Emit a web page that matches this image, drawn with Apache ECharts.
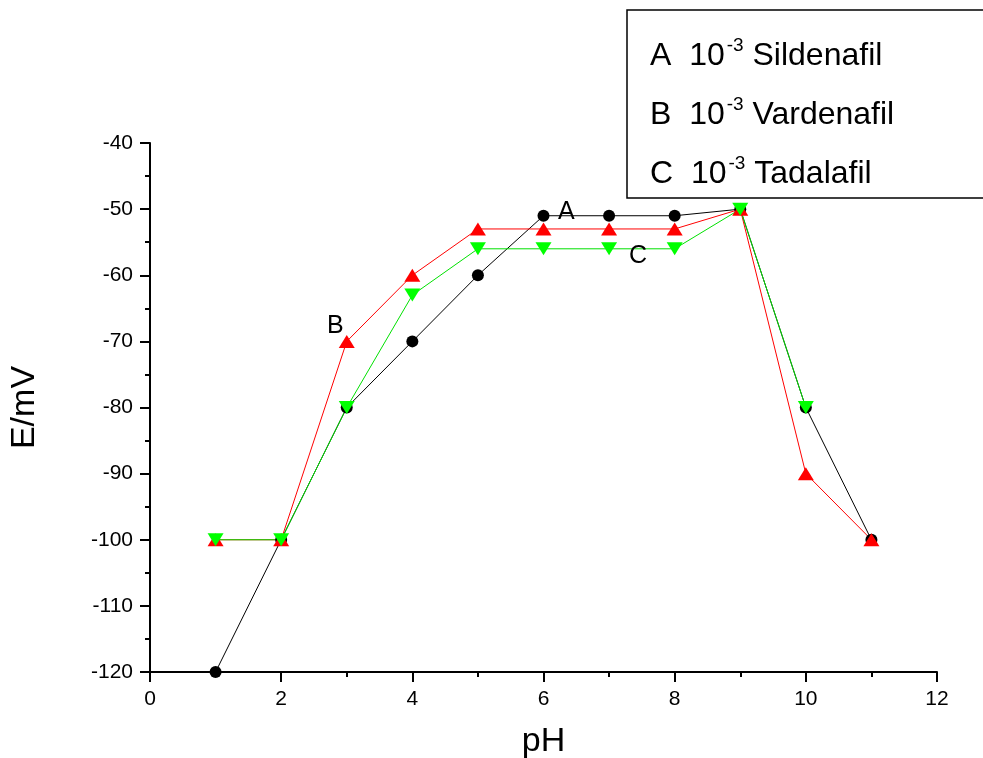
<!DOCTYPE html>
<html>
<head>
<meta charset="utf-8">
<style>
    html, body { margin: 0; padding: 0; background: #fff; }
    #main { width: 983px; height: 758px; }
</style>
</head>
<body>
<div id="main"></div>
<script src="https://cdn.jsdelivr.net/npm/echarts@6/dist/echarts.min.js"></script>
<script type="text/javascript">
    // data
    var phA = [1, 2, 3, 4, 5, 6, 7, 8, 9, 10, 11];
    var sildenafil = [-120, -100, -80, -70, -60, -51, -51, -51, -50, -80, -100];
    var phB = [1, 2, 3, 4, 5, 6, 7, 8, 9, 10, 11];
    var vardenafil = [-100, -100, -70, -60, -53, -53, -53, -53, -50, -90, -100];
    var phC = [1, 2, 3, 4, 5, 6, 7, 8, 9, 10];
    var tadalafil = [-100, -100, -80, -63, -56, -56, -56, -56, -50, -80];
    var legendLines = [
        ['A  10', 'Sildenafil'],
        ['B  10', 'Vardenafil'],
        ['C  10', 'Tadalafil']
    ];

    function pairs(xs, ys) {
        var out = [];
        for (var i = 0; i < xs.length; i++) out.push([xs[i], ys[i]]);
        return out;
    }

    var font = 'Liberation Sans, Arial, sans-serif';
    var myChart = echarts.init(document.getElementById('main'));

    var axisCommon = {
        axisLine: { lineStyle: { color: '#000', width: 2 } },
        axisTick: { inside: false, length: 10, lineStyle: { color: '#000', width: 2 } },
        minorTick: { show: true, splitNumber: 2, length: 5, lineStyle: { color: '#000', width: 2 } },
        splitLine: { show: false },
        axisLabel: { color: '#000', fontSize: 21, fontFamily: font, margin: 17 },
        nameTextStyle: { color: '#000', fontSize: 34, fontFamily: font }
    };

    // legend box drawn by hand, with superscript exponent
    var graphics = [
        { type: 'rect', shape: { x: 627, y: 10, width: 370, height: 188 },
          style: { fill: '#fff', stroke: '#000', lineWidth: 1.5 }, z: 100 }
    ];
    for (var i = 0; i < legendLines.length; i++) {
        graphics.push({
            type: 'text', x: 650, y: 56 + i * 59, z: 101,
            style: {
                verticalAlign: 'middle',
                rich: {
                    t: { fontSize: 32, fontFamily: font, fill: '#000' },
                    s: { fontSize: 19, fontFamily: font, fill: '#000', padding: [0, 0, 20, 2] }
                },
                text: '{t|' + legendLines[i][0] + '}{s|-3}{t| ' + legendLines[i][1] + '}'
            }
        });
    }
    graphics.push(
        { type: 'text', left: 558, top: 200, z: 101,
          style: { text: 'A', fontSize: 25, fontFamily: font, fill: '#000' } },
        { type: 'text', left: 327, top: 314, z: 101,
          style: { text: 'B', fontSize: 25, fontFamily: font, fill: '#000' } },
        { type: 'text', left: 629, top: 244, z: 101,
          style: { text: 'C', fontSize: 25, fontFamily: font, fill: '#000' } }
    );

    var option = {
        animation: false,
        grid: { left: 150, right: 46, top: 143, bottom: 86, outerBoundsMode: 'none', containLabel: false },
        xAxis: Object.assign({
            type: 'value', min: 0, max: 12, interval: 2,
            name: 'pH', nameLocation: 'middle', nameGap: 53
        }, axisCommon),
        yAxis: Object.assign({
            type: 'value', min: -120, max: -40, interval: 10,
            name: 'E/mV', nameLocation: 'middle', nameGap: 108, nameRotate: 90
        }, axisCommon),
        series: [{
            name: 'A',
            type: 'line',
            data: pairs(phA, sildenafil),
            symbol: 'circle', symbolSize: 12,
            lineStyle: { color: '#000', width: 1 },
            itemStyle: { color: '#000' }
        }, {
            name: 'B',
            type: 'line',
            data: pairs(phB, vardenafil),
            symbol: 'triangle', symbolSize: [16, 13],
            lineStyle: { color: '#ff0000', width: 1 },
            itemStyle: { color: '#ff0000' }
        }, {
            name: 'C',
            type: 'line',
            data: pairs(phC, tadalafil),
            symbol: 'triangle', symbolSize: [16, 13], symbolRotate: 180,
            lineStyle: { color: '#00e000', width: 1 },
            itemStyle: { color: '#00ff00' }
        }],
        graphic: graphics
    };

    myChart.setOption(option);
</script>
</body>
</html>
